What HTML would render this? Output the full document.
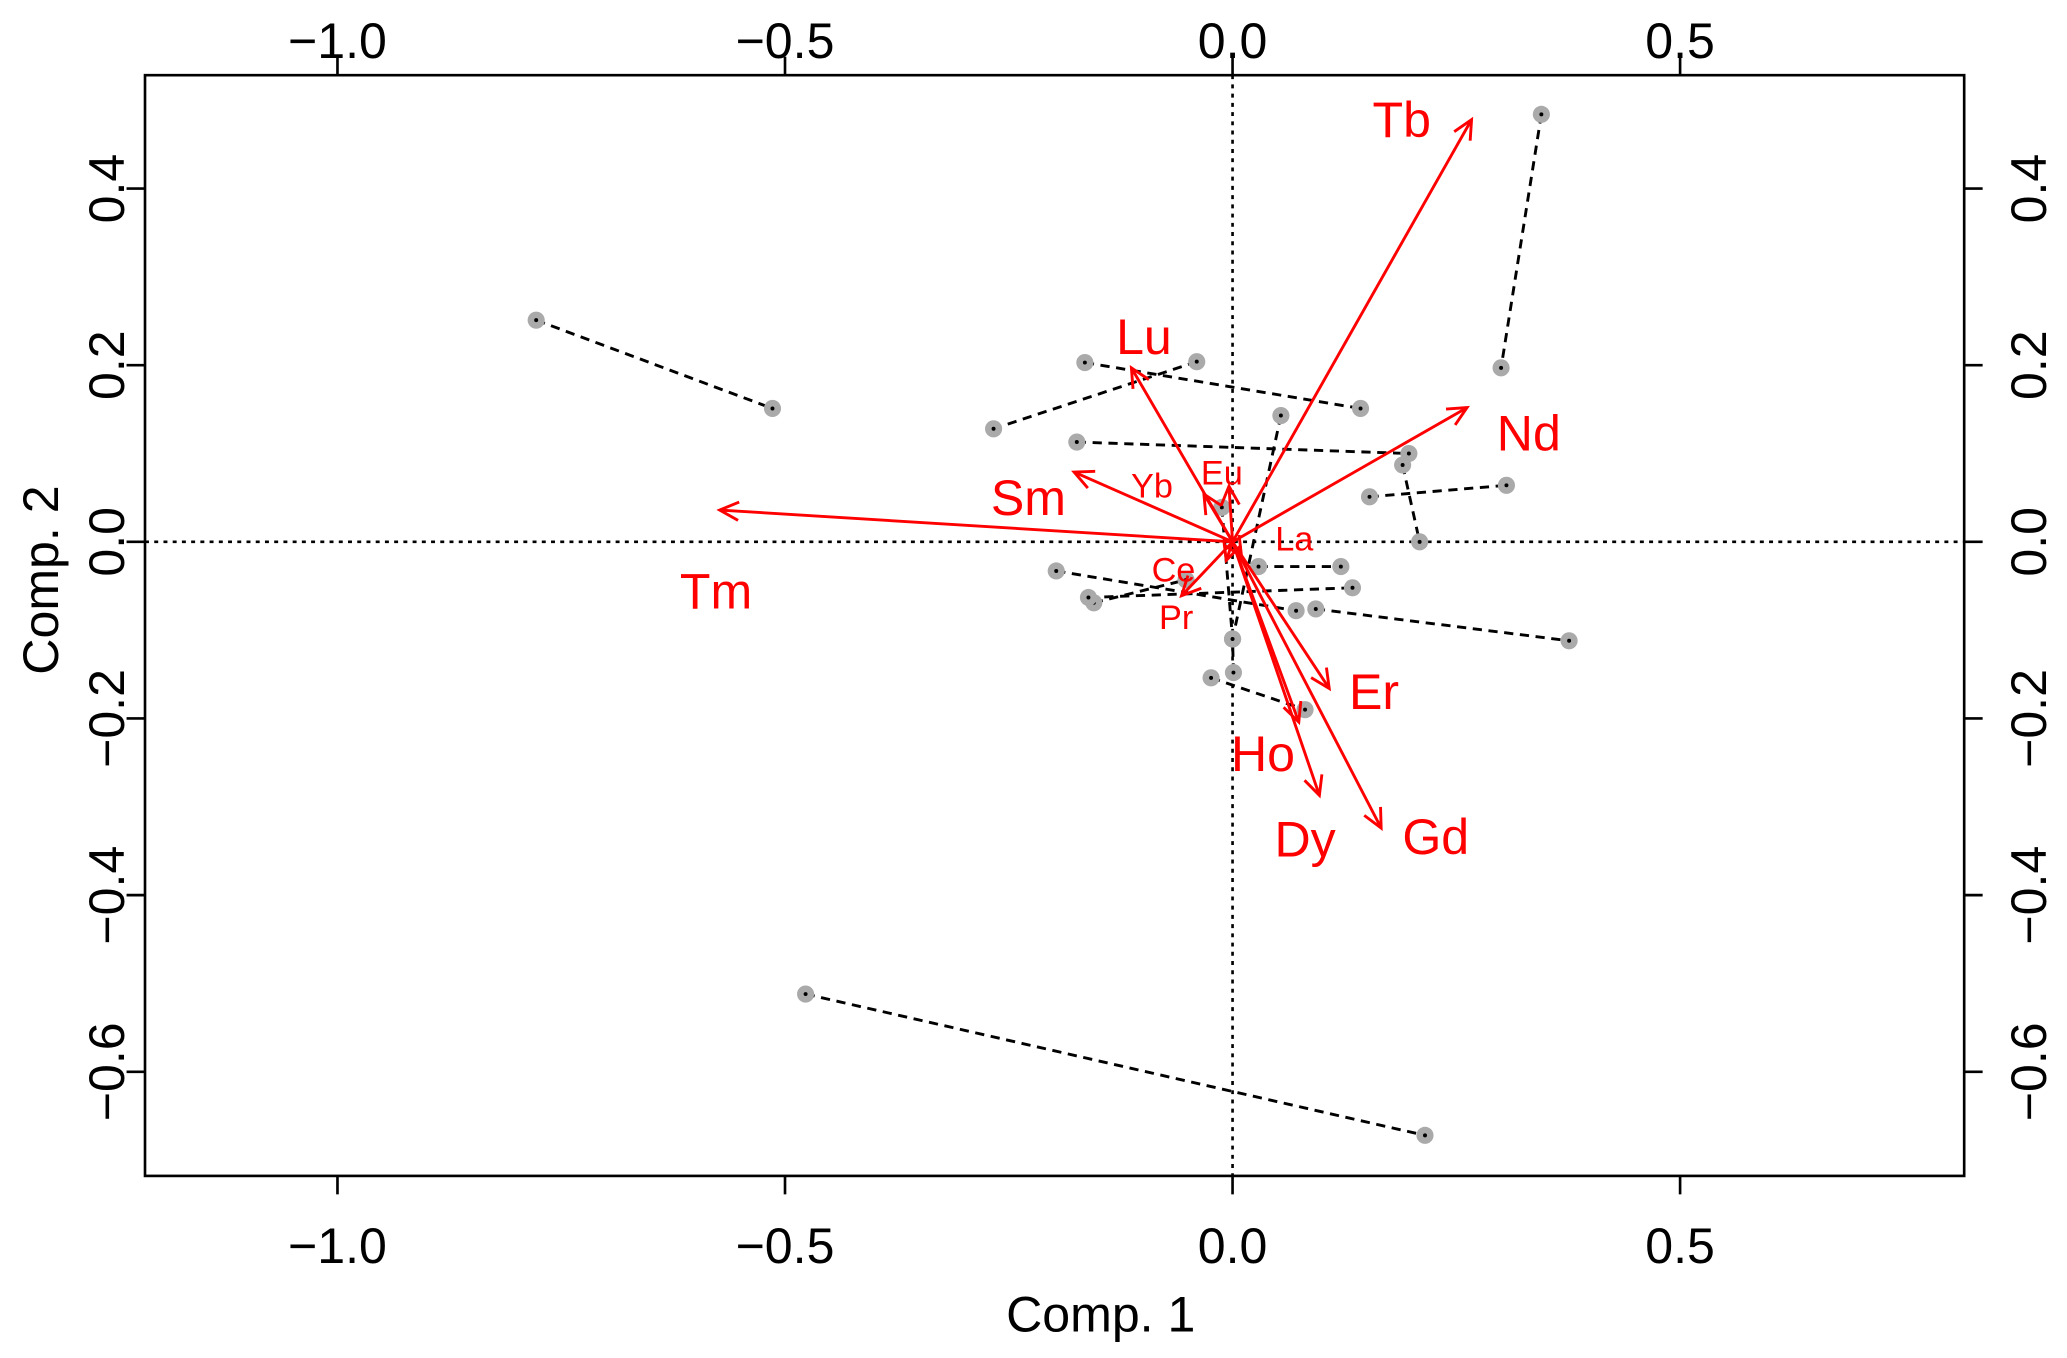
<!DOCTYPE html>
<html><head><meta charset="utf-8"><style>
html,body{margin:0;padding:0;background:#fff}
svg{display:block;font-family:"Liberation Sans",Arial,sans-serif}
</style></head><body>
<svg id="chart" width="2067" height="1358" viewBox="0 0 1568 1030.1" xmlns="http://www.w3.org/2000/svg">
<rect x="110" y="57" width="1380" height="835" fill="none" stroke="#000" stroke-width="2"/>
<g id="ticks"></g>
<g id="segs"></g>
<g id="arrows"></g>
<text x="835" y="1010" font-size="38" text-anchor="middle">Comp. 1</text>
<text x="0" y="0" font-size="38" text-anchor="middle" transform="translate(44,440) rotate(-90)">Comp. 2</text>
</svg>
<script>
const xTicks=[-1.0,-0.5,0.0,0.5];
const yTicks=[-0.6,-0.4,-0.2,0.0,0.2,0.4];
const xTickLabels=["\u22121.0","\u22120.5","0.0","0.5"];
const yTickLabels=["\u22120.6","\u22120.4","\u22120.2","0.0","0.2","0.4"];
const segX1=[0.345,-0.778,-0.165,-0.040,-0.174,0.190,0.153,0.054,0.029,-0.197,0.093,-0.155,-0.161,-0.024,0.001,-0.477,-0.012];
const segY1=[0.484,0.251,0.203,0.204,0.113,0.087,0.051,0.143,-0.028,-0.033,-0.076,-0.069,-0.063,-0.154,-0.148,-0.512,0.039];
const segX2=[0.300,-0.514,0.143,-0.267,0.197,0.209,0.306,0.000,0.121,0.071,0.376,-0.052,0.134,0.081,0.000,0.215,0.000];
const segY2=[0.197,0.151,0.151,0.128,0.100,0.000,0.064,-0.110,-0.028,-0.078,-0.112,-0.043,-0.052,-0.190,-0.110,-0.672,-0.110];
const varNames=["Tb","Lu","Nd","Sm","Yb","Eu","Tm","Ce","Pr","La","Er","Ho","Dy","Gd"];
const arrowX=[0.267,-0.113,0.262,-0.177,-0.032,-0.004,-0.573,-0.057,-0.007,0.010,0.108,0.074,0.097,0.166];
const arrowY=[0.478,0.197,0.152,0.079,0.054,0.063,0.036,-0.061,-0.021,-0.016,-0.166,-0.204,-0.287,-0.324];
const labelX=[0.189,-0.099,0.331,-0.228,-0.090,-0.012,-0.577,-0.066,-0.063,0.069,0.158,0.034,0.081,0.227];
const labelY=[0.479,0.233,0.124,0.051,0.064,0.079,-0.055,-0.031,-0.085,0.004,-0.169,-0.239,-0.336,-0.333];
const labelSmall=[0,0,0,0,1,1,0,1,1,1,0,0,0,0];

const NS="http://www.w3.org/2000/svg";
const X=v=>935+v*679, Y=v=>411-v*670;
function mk(tag,attrs,parent){const e=document.createElementNS(NS,tag);for(const k in attrs)e.setAttribute(k,attrs[k]);parent.appendChild(e);return e;}
const tg=document.getElementById('ticks');
xTicks.forEach((t,i)=>{
  const x=X(t);
  let l=mk('line',{x1:x,x2:x,y1:892,y2:906,stroke:'#000','stroke-width':2},tg);
  
  
  let l2=mk('line',{x1:x,x2:x,y1:57,y2:43,stroke:'#000','stroke-width':2},tg);
  
  
  let a=mk('text',{x:x,y:958,'font-size':38,'text-anchor':'middle'},tg);a.textContent=xTickLabels[i];
  
  
  let b=mk('text',{x:x,y:44,'font-size':38,'text-anchor':'middle'},tg);b.textContent=xTickLabels[i];
  
  
});
yTicks.forEach((t,i)=>{
  const y=Y(t);
  let l=mk('line',{x1:110,x2:96,y1:y,y2:y,stroke:'#000','stroke-width':2},tg);
  
  
  let l2=mk('line',{x1:1490,x2:1504,y1:y,y2:y,stroke:'#000','stroke-width':2},tg);
  
  
  let a=mk('text',{x:0,y:0,'font-size':38,'text-anchor':'middle',transform:`translate(94,${y}) rotate(-90)`},tg);a.textContent=yTickLabels[i];
  
  
  let b=mk('text',{x:0,y:0,'font-size':38,'text-anchor':'middle',transform:`translate(1552,${y}) rotate(-90)`},tg);b.textContent=yTickLabels[i];
  
  
});
// zero lines
let zx=mk('line',{x1:X(0),x2:X(0),y1:57,y2:892,stroke:'#000','stroke-width':2,'stroke-dasharray':'3,4'},tg);


let zy=mk('line',{x1:110,x2:1490,y1:Y(0),y2:Y(0),stroke:'#000','stroke-width':2,'stroke-dasharray':'3,4'},tg);



const sg=document.getElementById('segs');
segX1.forEach((v,i)=>{
  let l=mk('line',{x1:X(segX1[i]),y1:Y(segY1[i]),x2:X(segX2[i]),y2:Y(segY2[i]),stroke:'#000','stroke-width':2.2,'stroke-dasharray':'7,5'},sg);
  
  
});
segX1.forEach((v,i)=>{
  [[segX1[i],segY1[i]],[segX2[i],segY2[i]]].forEach(p=>{
    let c=mk('circle',{cx:X(p[0]),cy:Y(p[1]),r:6.5,fill:'#aaaaaa'},sg);
    
    
    let d=mk('circle',{cx:X(p[0]),cy:Y(p[1]),r:1.5,fill:'#000'},sg);
    
    
  });
});
const ag=document.getElementById('arrows');
varNames.forEach((n,i)=>{
  const x0=X(0),y0=Y(0),x1=X(arrowX[i]),y1=Y(arrowY[i]);
  let l=mk('line',{x1:x0,y1:y0,x2:x1,y2:y1,stroke:'#ff0000','stroke-width':2.2},ag);
  
  
  const ang=Math.atan2(y1-y0,x1-x0),h=16,s=0.45;
  const p=`M${x1-h*Math.cos(ang-s)},${y1-h*Math.sin(ang-s)} L${x1},${y1} L${x1-h*Math.cos(ang+s)},${y1-h*Math.sin(ang+s)}`;
  let hd=mk('path',{d:p,fill:'none',stroke:'#ff0000','stroke-width':2.2},ag);
  
  
  const fs=labelSmall[i]?26:38;
  let t=mk('text',{x:X(labelX[i]),y:Y(labelY[i])+fs*0.36,'font-size':fs,fill:'#ff0000','text-anchor':'middle'},ag);
  t.textContent=n;
  
  
});
</script>
</body></html>
